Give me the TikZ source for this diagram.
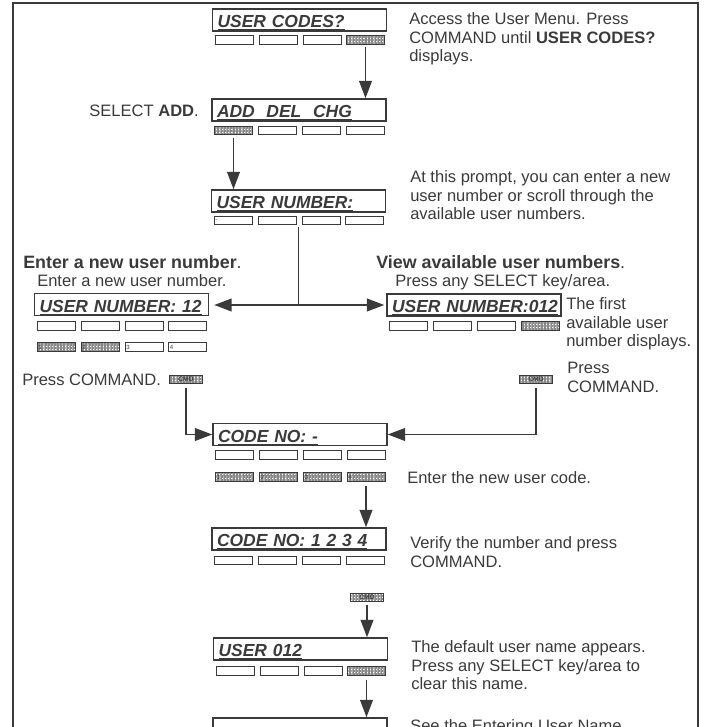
\documentclass[tikz,border=0pt]{standalone}
\usepackage{fontspec}
\setmainfont{Liberation Sans}
\usetikzlibrary{arrows.meta,patterns.meta}
\definecolor{ink}{HTML}{3A3A3A}
\newcommand{\bodyfont}{\fontsize{12.4}{14.1}\selectfont}
\newcommand{\headfont}{\fontsize{13.4}{15}\selectfont\bfseries}
\newcommand{\lcdfont}{\fontsize{13.1}{14}\selectfont\bfseries\itshape}

\begin{document}
\begin{tikzpicture}[x=0.75pt, y=-0.75pt,
lcd/.style={rectangle, draw=ink, line width=1.1pt, text=ink, font=\lcdfont, text width=123pt, inner xsep=3.75pt, inner ysep=0pt, minimum height=16.5pt, text height=12.9pt, text depth=1.6pt, align=left},
key/.style={rectangle, draw=ink, line width=0.7pt, minimum width=28.5pt, minimum height=6.5pt, inner sep=0pt},
keyon/.style={key, pattern={Hatch[distance=1.1pt, angle=0, line width=0.3pt]}, pattern color=ink!60},
keynum/.style={text width=26.5pt, inner xsep=1pt, align=left, font=\fontsize{4.5}{4.5}\selectfont, text=ink},
cmdkey/.style={keyon, minimum width=25pt, minimum height=6pt, font=\fontsize{5}{5}\selectfont\bfseries, text=ink},
txt/.style={anchor=north west, inner sep=0pt, align=left, font=\bodyfont, text=ink},
head/.style={txt, font=\headfont},
arr/.style={draw=ink, line width=1.3pt, -{Triangle[length=13pt, width=9.5pt]}},
link/.style={draw=ink, line width=1.2pt},
frame/.style={draw=ink, line width=1.3pt},
]
\useasboundingbox (0,0) rectangle (707,727);
\clip (0,0) rectangle (707,727);

%Frame
\draw[frame] (13,740) -- (13,3) -- (698,3) -- (698,740);

%Screens
\node[lcd] (codes)   at (299.5,20)  {\underline{USER CODES?}};
\node[lcd] (add)     at (299,110)   {\underline{ADD\ \ DEL\ \ CHG}};
\node[lcd] (num)     at (298.5,201) {\underline{USER NUMBER:}};
\node[lcd] (numnew)  at (121.5,304.5) {\underline{USER NUMBER: 12}};
\node[lcd] (numfree) at (474,305)   {\underline{USER NUMBER:012}};
\node[lcd] (code)    at (300,434.5) {\underline{CODE NO: -}};
\node[lcd] (codeset) at (299,539)   {\underline{CODE NO: 1 2 3 4}};
\node[lcd] (user)    at (300.5,649) {\underline{USER 012}};
\node[lcd] (last)    at (300,729)   {};

%Keys
\node[key]   (codes1) at (234,40) {};
\node[key]   (codes2) at (278,40) {};
\node[key]   (codes3) at (322,40) {};
\node[keyon] (codes4) at (365.5,40) {};
\node[keyon] (add1) at (233.5,130.5) {};
\node[key]   (add2) at (277.5,130.5) {};
\node[key]   (add3) at (321.5,130.5) {};
\node[key]   (add4) at (365,130.5) {};
\node[key, keynum] (num1) at (233,220.5) {-};
\node[key]   (num2) at (277,220.5) {};
\node[key]   (num3) at (321,220.5) {};
\node[key]   (num4) at (364.5,220.5) {};
\node[key]   (numnew1) at (56,326) {};
\node[key]   (numnew2) at (100,326) {};
\node[key]   (numnew3) at (144,326) {};
\node[key]   (numnew4) at (187.5,326) {};
\node[keyon, keynum] (numnew5) at (56,347) {1};
\node[keyon, keynum] (numnew6) at (100,347) {2};
\node[key, keynum]   (numnew7) at (144,347) {3};
\node[key, keynum]   (numnew8) at (187.5,347) {4};
\node[key]   (numfree1) at (408.5,326) {};
\node[key]   (numfree2) at (452.5,326) {};
\node[key]   (numfree3) at (496.5,326) {};
\node[keyon] (numfree4) at (540,326) {};
\node[key]   (code1) at (234.5,455) {};
\node[key]   (code2) at (278.5,455) {};
\node[key]   (code3) at (322.5,455) {};
\node[key]   (code4) at (366,455) {};
\node[keyon, keynum] (code5) at (234.5,477) {1};
\node[keyon, keynum] (code6) at (278.5,477) {2};
\node[keyon, keynum] (code7) at (322.5,477) {3};
\node[keyon, keynum] (code8) at (366,477) {4};
\node[key]   (codeset1) at (233.5,560.5) {};
\node[key]   (codeset2) at (277.5,560.5) {};
\node[key]   (codeset3) at (321.5,560.5) {};
\node[key]   (codeset4) at (365,560.5) {};
\node[key]   (user1) at (235,671) {};
\node[key]   (user2) at (279,671) {};
\node[key]   (user3) at (323,671) {};
\node[keyon] (user4) at (366.5,671) {};
\node[cmdkey] (cmdleft)  at (186,379.5) {CMD};
\node[cmdkey] (cmdright) at (536,379.5) {CMD};
\node[cmdkey] (cmdmid)   at (367,597) {CMD};
\coordinate (split) at (298.5,305);

%Texts
\node[txt] (access) at (409,12) {Access the User Menu. Press\\COMMAND until \textbf{USER CODES?}\\displays.};
\node[txt, anchor=north east] (select) at (199,105) {SELECT \textbf{ADD}.};
\node[txt] (prompt) at (410,170) {At this prompt, you can enter a new\\user number or scroll through the\\available user numbers.};
\node[head] (newhead) at (23,255.5) {Enter a new user number\textmd{.}};
\node[txt] (newtext) at (37,274) {Enter a new user number.};
\node[head] (viewhead) at (376,255.5) {View available user numbers\textmd{.}};
\node[txt] (viewtext) at (395,274) {Press any SELECT key/area.};
\node[txt] (first) at (566,297) {The first\\available user\\number displays.};
\node[txt] (pressleft) at (22,374) {Press COMMAND.};
\node[txt] (pressright) at (567,362) {Press\\COMMAND.};
\node[txt] (enter) at (407,471) {Enter the new user code.};
\node[txt] (verify) at (410,536) {Verify the number and press\\COMMAND.};
\node[txt] (default) at (411,640) {The default user name appears.\\Press any SELECT key/area to\\clear this name.};
\node[txt] (see) at (410,719) {See the Entering User Name};

%Lines
\draw[arr, shorten <=2pt] (codes4.south) -- (codes4.south |- add.north);
\draw[arr, shorten <=2pt] (add1.south) -- (add1.south |- num.north);
\draw[link, shorten <=1.5pt] (num.south |- num1.south) -- (split);
\draw[arr, shorten >=3.75pt] (split) -- (split -| numnew.east);
\draw[arr, shorten >=1.5pt] (split) -- (split -| numfree.west);
\draw[arr, shorten <=3pt] (cmdleft.south) |- (code.west);
\draw[arr, shorten <=3pt] (cmdright.south) |- (code.east);
\draw[arr, shorten <=3pt] (code8.south) -- (code8.south |- codeset.north);
\draw[arr, shorten <=3pt] (cmdmid.south) -- (cmdmid.south |- user.north);
\draw[arr, shorten <=3pt] (user4.south) -- (user4.south |- last.north);
\end{tikzpicture}
\end{document}
